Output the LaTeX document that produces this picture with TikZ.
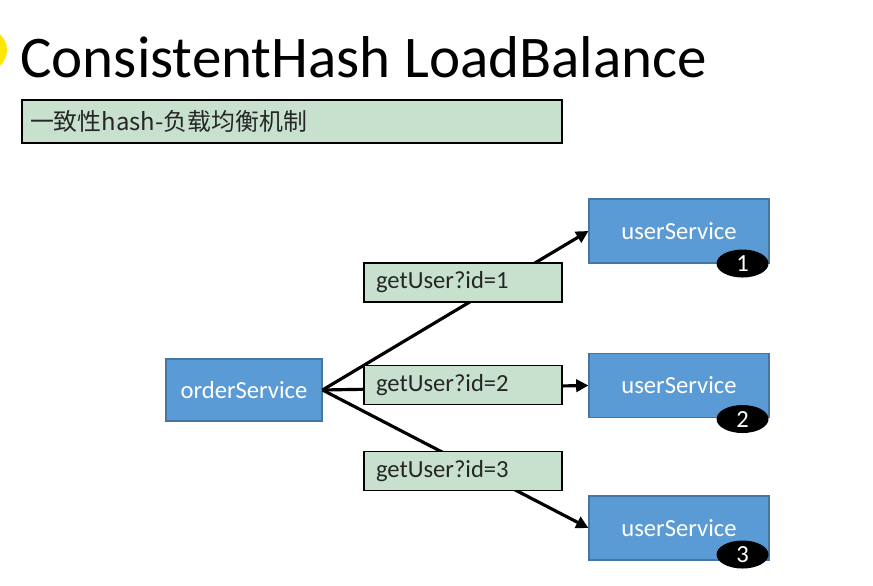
\documentclass[tikz,border=0pt]{standalone}
\usepackage{fontspec}
\setmainfont{Carlito}
\newfontfamily\cjk{Noto Sans CJK SC}
\usetikzlibrary{arrows.meta,positioning,shapes.geometric}
\definecolor{svcblue}{RGB}{91,155,213}
\definecolor{svcedge}{RGB}{70,118,165}
\definecolor{notegreen}{RGB}{199,225,206}

\begin{document}
\begin{tikzpicture}
	[every node/.style={inner sep=0pt,font=\fontsize{14}{16}\selectfont},
	service/.style={rectangle,draw=svcedge,fill=svcblue,text=white,line width=0.6pt},
	call/.style={rectangle,draw,fill=notegreen,line width=1.1pt,minimum width=3.96cm,minimum height=0.78cm,
		text width=3.48cm,align=left,text=black!85},
	badge/.style={ellipse,fill=black,text=white,minimum width=1.04cm,minimum height=0.56cm},
	link/.style={line width=1.8pt,-{Triangle[length=7pt,width=7pt]}}]
	\useasboundingbox[fill=white] (0,0) rectangle (17.46,11.72);
	\fill[yellow!90!orange] (-0.28,10.72) circle (0.42);
	\node (title) [anchor=base west,font=\fontsize{33.6}{38}\selectfont] at (0.4,10.16) {ConsistentHash LoadBalance};
	\node (sub) [rectangle,draw,fill=notegreen,line width=1.1pt,minimum height=0.86cm,text width=10.48cm,
		inner xsep=0.16cm,align=left,text=black!85,font=\cjk\fontsize{13.6}{15}\selectfont] at (5.84,9.29) {一致性hash-负载均衡机制};
	\node (order) [service,minimum width=3.12cm,minimum height=1.24cm] at (4.88,3.92) {orderService};
	\node (u1) [service,minimum width=3.6cm,minimum height=1.28cm] at (13.58,7.10) {userService};
	\node (u2) [service,minimum width=3.6cm,minimum height=1.28cm] at (13.58,4.01) {userService};
	\node (u3) [service,minimum width=3.6cm,minimum height=1.28cm] at (13.58,1.16) {userService};
	\node (b1) [badge] at ([xshift=-0.54cm]u1.south east) {1};
	\node (b2) [badge] at ([xshift=-0.54cm,yshift=-0.02cm]u2.south east) {2};
	\node (b3) [badge] at ([xshift=-0.54cm,yshift=0.12cm]u3.south east) {3};
	\draw [link] (order.east) -- (u1.west);
	\draw [link] (order.east) -- (u2.west);
	\draw [link] (order.east) -- (u3.west);
	\node (q1) [call] at (9.26,6.07) {getUser?id=1};
	\node (q2) [call] at (9.26,4.02) {getUser?id=2};
	\node (q3) [call] at (9.26,2.30) {getUser?id=3};
\end{tikzpicture}
\end{document}
